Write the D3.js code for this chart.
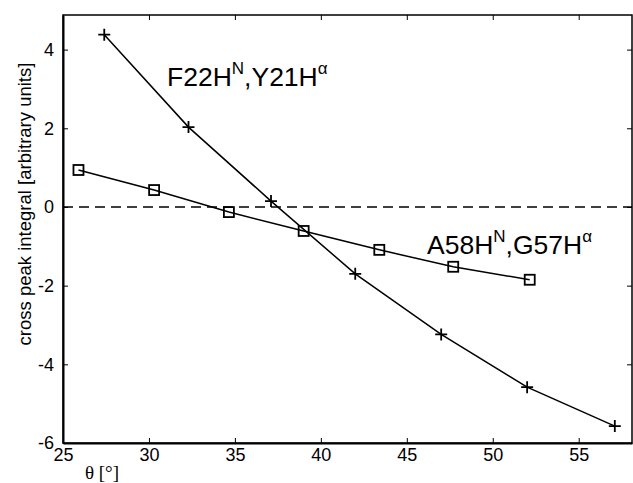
<!DOCTYPE html>
<html>
<head>
<meta charset="utf-8">
<script src="https://cdn.jsdelivr.net/npm/d3@7"></script>
<style>
  body { margin: 0; background: #fff; }
  svg { display: block; font-family: "Liberation Sans", Arial, sans-serif; }
</style>
</head>
<body>
<svg width="633" height="483"></svg>
<script>
const width = 633,
  height = 483;
const svg = d3.select('svg');

// data
const thetaF22 = [27.4, 32.3, 37.1, 42.0, 47.0, 52.0, 57.1];
const peakF22 = [4.38, 2.03, 0.15, -1.7, -3.24, -4.58, -5.57];
const thetaA58 = [25.9, 30.3, 34.65, 39.0, 43.4, 47.7, 52.15];
const peakA58 = [0.94, 0.43, -0.13, -0.61, -1.09, -1.52, -1.85];
const xTicks = [25, 30, 35, 40, 45, 50, 55];
const yTicks = [-6, -4, -2, 0, 2, 4];

const f22 = thetaF22.map((t, i) => ({ x: t, y: peakF22[i] }));
const a58 = thetaA58.map((t, i) => ({ x: t, y: peakA58[i] }));

const x = d3.scaleLinear().domain([25, 58.1]).range([63, 632]);
const y = d3.scaleLinear().domain([-6, 4.88]).range([443, 15]);
const fmt = (d) => String(d);

// frame
svg
  .append('rect')
  .attr('x', x.range()[0])
  .attr('y', y.range()[1])
  .attr('width', x.range()[1] - x.range()[0])
  .attr('height', y.range()[0] - y.range()[1])
  .attr('fill', 'none')
  .attr('stroke', '#000')
  .attr('stroke-width', 1.5);

// bottom axis
const gx = svg
  .append('g')
  .attr('transform', `translate(0,${y.range()[0]})`)
  .call(d3.axisBottom(x).tickValues(xTicks).tickFormat(fmt).tickSizeInner(-5).tickSizeOuter(0).tickPadding(5));
gx.select('.domain').attr('stroke-width', 2);
gx.selectAll('text').attr('font-size', 18).attr('font-family', '"Liberation Sans", Arial, sans-serif');

// top ticks
svg
  .append('g')
  .attr('transform', `translate(0,${y.range()[1]})`)
  .call(d3.axisTop(x).tickValues(xTicks).tickFormat('').tickSizeInner(-5).tickSizeOuter(0))
  .select('.domain')
  .remove();

// left axis
const gy = svg
  .append('g')
  .attr('transform', `translate(${x.range()[0]},0)`)
  .call(d3.axisLeft(y).tickValues(yTicks).tickFormat(fmt).tickSizeInner(-5).tickSizeOuter(0).tickPadding(9));
gy.select('.domain').attr('stroke-width', 2);
gy.selectAll('text').attr('font-size', 18).attr('font-family', '"Liberation Sans", Arial, sans-serif');

// right ticks
svg
  .append('g')
  .attr('transform', `translate(${x.range()[1]},0)`)
  .call(d3.axisRight(y).tickValues(yTicks).tickFormat('').tickSizeInner(-5).tickSizeOuter(0))
  .select('.domain')
  .remove();

// zero line
svg
  .append('line')
  .attr('x1', x.range()[0])
  .attr('x2', x.range()[1])
  .attr('y1', y(0))
  .attr('y2', y(0))
  .attr('stroke', '#000')
  .attr('stroke-width', 1.5)
  .attr('stroke-dasharray', '10,6');

const line = d3
  .line()
  .x((d) => x(d.x))
  .y((d) => y(d.y));

[f22, a58].forEach((s) => {
  svg
    .append('path')
    .datum(s)
    .attr('fill', 'none')
    .attr('stroke', '#000')
    .attr('stroke-width', 1.5)
    .attr('d', line);
});

// plus markers
svg
  .append('g')
  .selectAll('path')
  .data(f22)
  .join('path')
  .attr('d', (d) => {
    const cx = x(d.x),
      cy = y(d.y);
    return `M${cx - 6},${cy}H${cx + 6}M${cx},${cy - 6}V${cy + 6}`;
  })
  .attr('stroke', '#000')
  .attr('stroke-width', 1.8);

// square markers
svg
  .append('g')
  .selectAll('rect')
  .data(a58)
  .join('rect')
  .attr('x', (d) => x(d.x) - 5)
  .attr('y', (d) => y(d.y) - 5)
  .attr('width', 10)
  .attr('height', 10)
  .attr('fill', 'none')
  .attr('stroke', '#000')
  .attr('stroke-width', 1.8);

// series labels
function label(px, py, a, b) {
  const t = svg.append('text').attr('x', px).attr('y', py).attr('font-size', 26.5);
  t.append('tspan').text(a + 'H');
  t.append('tspan').attr('font-size', 17).attr('dy', -12).text('N');
  t.append('tspan').attr('dy', 12).text(',' + b + 'H');
  t.append('tspan').attr('font-size', 17).attr('dy', -12).text('α');
}
label(167, 86, 'F22', 'Y21');
label(427, 254, 'A58', 'G57');

// axis titles
svg
  .append('text')
  .attr('transform', `translate(31,204) rotate(-90)`)
  .attr('text-anchor', 'middle')
  .attr('font-size', 18.5)
  .text('cross peak integral [arbitrary units]');

svg
  .append('text')
  .attr('x', 102)
  .attr('y', 479)
  .attr('text-anchor', 'middle')
  .attr('font-size', 19)
  .style('font-family', '"Liberation Serif", "Times New Roman", serif')
  .text('θ [°]');
</script>
</body>
</html>
